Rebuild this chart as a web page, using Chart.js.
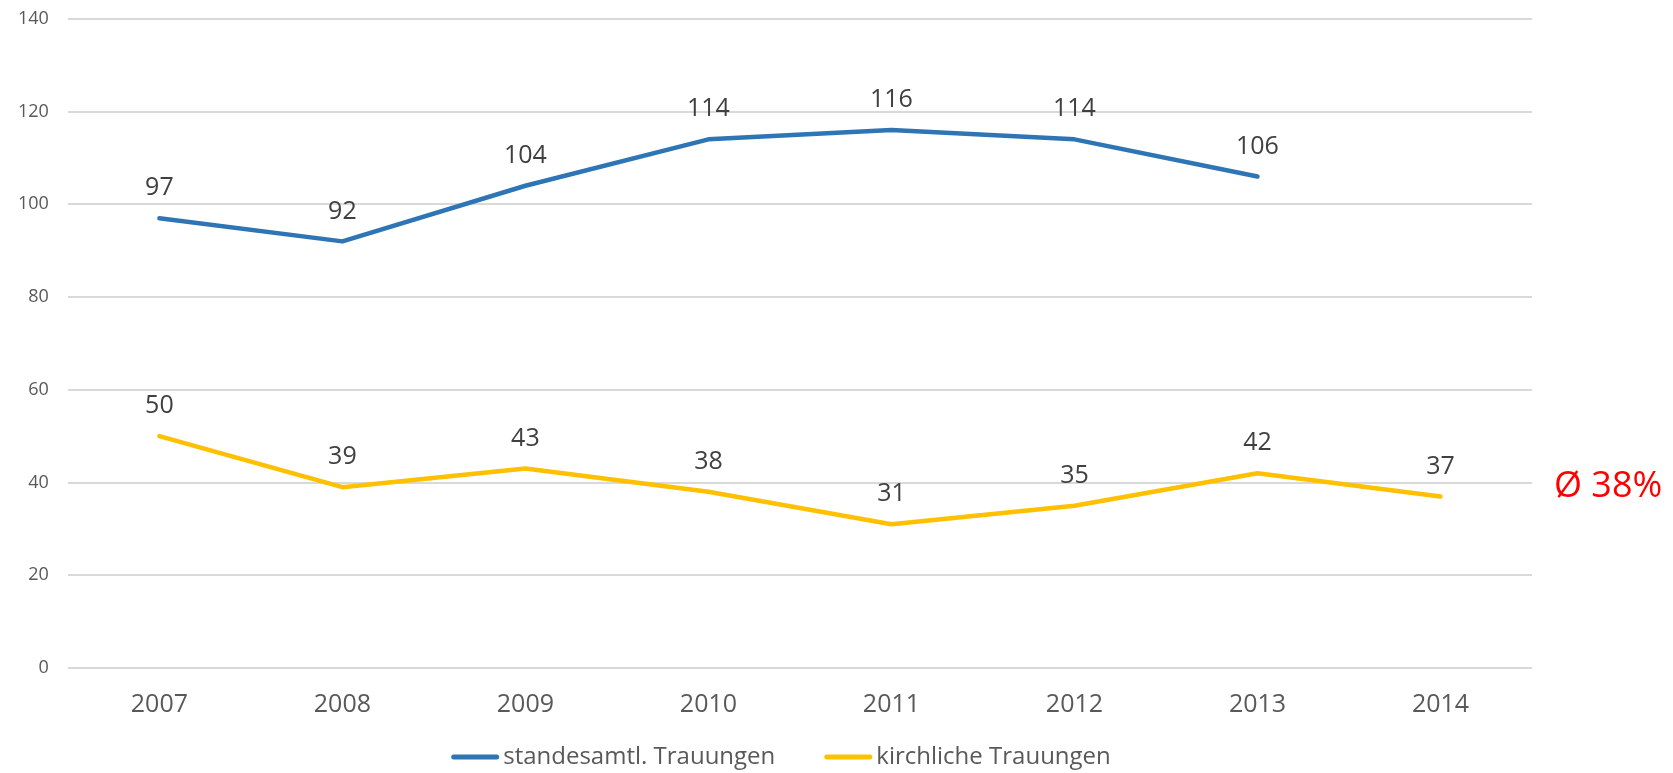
<!DOCTYPE html>
<html>
<head>
<meta charset="utf-8">
<title>Trauungen 2007-2014</title>
<script src="https://cdn.jsdelivr.net/npm/chart.js@4.4.1/dist/chart.umd.min.js"></script>
<style>
  html, body { margin: 0; padding: 0; background: #fff; }
  #wrap { width: 1673px; height: 773px; position: relative; }
</style>
</head>
<body>
<div id="wrap"><canvas id="weddingChart"></canvas></div>
<script>
// Data
const years = ['2007', '2008', '2009', '2010', '2011', '2012', '2013', '2014'];
const civilWeddings = [97, 92, 104, 114, 116, 114, 106, null];
const churchWeddings = [50, 39, 43, 38, 31, 35, 42, 37];
const seriesNames = ['standesamtl. Trauungen', 'kirchliche Trauungen'];
const seriesColors = ['#2e75b6', '#ffc000'];
const yMin = 0;
const yMax = 140;
const yStep = 20;
const avgValue = 38;
const avgLabel = 'Ø 38%';

Chart.defaults.font.family = "'Open Sans', sans-serif";

// Values above every point
const pointLabels = {
    id: 'pointLabels',
    afterDatasetsDraw(chart) {
        const ctx = chart.ctx;
        ctx.save();
        ctx.font = "25px 'Open Sans', sans-serif";
        ctx.fillStyle = '#404040';
        ctx.textAlign = 'center';
        ctx.textBaseline = 'middle';
        chart.data.datasets.forEach((ds, i) => {
            chart.getDatasetMeta(i).data.forEach((pt, j) => {
                if (ds.data[j] === null) return;
                ctx.fillText(ds.data[j], pt.x, pt.y - 30);
            });
        });
        ctx.restore();
    }
};

// Red average note right of the plot
const averageNote = {
    id: 'averageNote',
    afterDraw(chart) {
        const ctx = chart.ctx;
        const y = chart.scales.y.getPixelForValue(avgValue);
        ctx.save();
        ctx.font = "36px 'Open Sans', sans-serif";
        ctx.fillStyle = '#ff0000';
        ctx.textAlign = 'left';
        ctx.textBaseline = 'middle';
        ctx.fillText(avgLabel, chart.chartArea.right + 22, y - 5);
        ctx.restore();
    }
};

// Legend at the bottom, a bit left of centre like the original
const bottomLegend = {
    id: 'bottomLegend',
    afterDraw(chart) {
        const ctx = chart.ctx;
        const lineLen = 48, textGap = 4, itemGap = 49;
        ctx.save();
        ctx.font = "24px 'Open Sans', sans-serif";
        const items = chart.data.datasets.map(ds => ({
            text: ds.label,
            color: ds.borderColor,
            w: lineLen + textGap + ctx.measureText(ds.label).width
        }));
        const total = items.reduce((s, it) => s + it.w, 0) + itemGap * (items.length - 1);
        let x = 781 - total / 2;
        const y = chart.height - 16;
        ctx.textBaseline = 'middle';
        ctx.textAlign = 'left';
        ctx.lineCap = 'round';
        ctx.lineWidth = 5;
        items.forEach(it => {
            ctx.strokeStyle = it.color;
            ctx.beginPath();
            ctx.moveTo(x + 2.5, y);
            ctx.lineTo(x + lineLen - 2.5, y);
            ctx.stroke();
            ctx.fillStyle = '#595959';
            ctx.fillText(it.text, x + lineLen + textGap, y);
            x += it.w + itemGap;
        });
        ctx.restore();
    }
};

const ctx = document.getElementById('weddingChart').getContext('2d');
new Chart(ctx, {
    type: 'line',
    data: {
        labels: years,
        datasets: [
            {
                label: seriesNames[0],
                data: civilWeddings,
                borderColor: seriesColors[0],
                backgroundColor: seriesColors[0],
                borderWidth: 4.5,
                borderCapStyle: 'round',
                borderJoinStyle: 'round',
                pointRadius: 0,
                tension: 0
            },
            {
                label: seriesNames[1],
                data: churchWeddings,
                borderColor: seriesColors[1],
                backgroundColor: seriesColors[1],
                borderWidth: 4.5,
                borderCapStyle: 'round',
                borderJoinStyle: 'round',
                pointRadius: 0,
                tension: 0
            }
        ]
    },
    options: {
        responsive: true,
        maintainAspectRatio: false,
        animation: false,
        layout: { padding: { left: 10, right: 141, top: 0, bottom: 39 } },
        plugins: {
            legend: { display: false },
            tooltip: { enabled: false }
        },
        scales: {
            x: {
                offset: true,
                grid: { display: false },
                border: { display: false },
                ticks: { color: '#595959', font: { size: 25 }, padding: 14 }
            },
            y: {
                min: yMin,
                max: yMax,
                ticks: { stepSize: yStep, color: '#595959', font: { size: 18 }, padding: 8 },
                grid: { color: '#d9d9d9', lineWidth: 2, drawTicks: true, tickLength: 11, tickColor: 'rgba(0,0,0,0)' },
                border: { display: false }
            }
        }
    },
    plugins: [pointLabels, averageNote, bottomLegend]
});
</script>
</body>
</html>
